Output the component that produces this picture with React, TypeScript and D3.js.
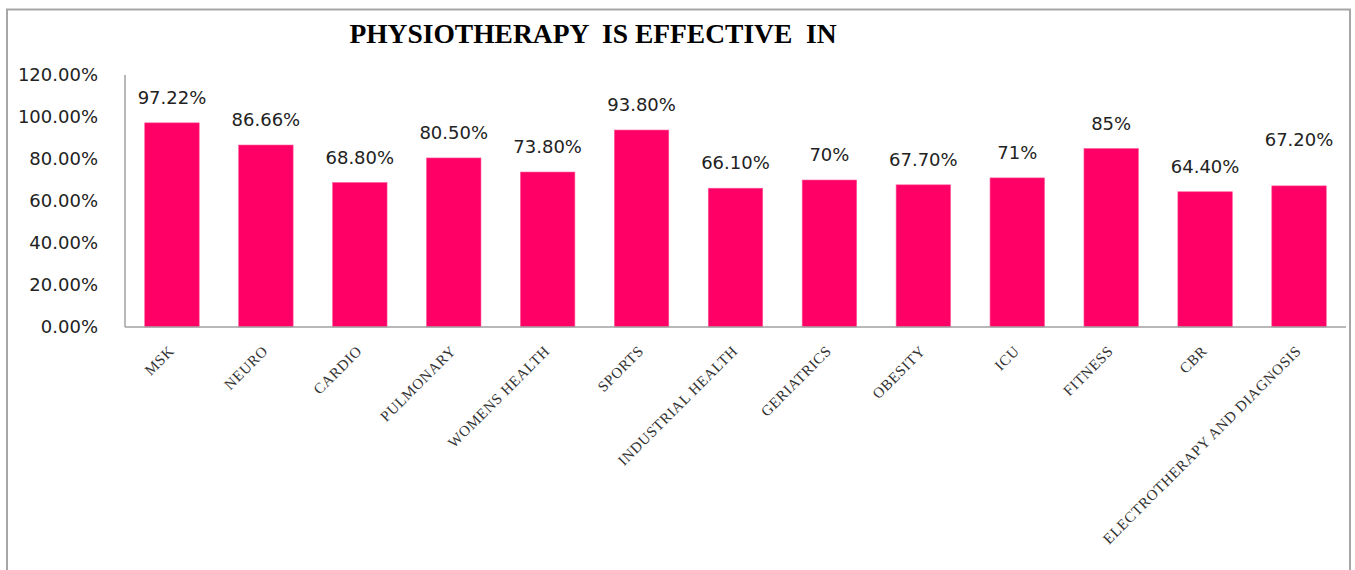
import * as d3 from 'd3';

const categories = [
  'MSK', 'NEURO', 'CARDIO', 'PULMONARY', 'WOMENS HEALTH', 'SPORTS',
  'INDUSTRIAL HEALTH', 'GERIATRICS', 'OBESITY', 'ICU', 'FITNESS', 'CBR',
  'ELECTROTHERAPY AND DIAGNOSIS',
];
const values = [0.9722, 0.8666, 0.688, 0.805, 0.738, 0.938, 0.661, 0.70, 0.677, 0.71, 0.85, 0.644, 0.672];
const valueLabels = ['97.22%', '86.66%', '68.80%', '80.50%', '73.80%', '93.80%', '66.10%', '70%', '67.70%', '71%', '85%', '64.40%', '67.20%'];
const yTicks = [0, 0.2, 0.4, 0.6, 0.8, 1.0, 1.2];

const title = 'PHYSIOTHERAPY  IS EFFECTIVE  IN';

// label that was dragged up by hand in the original
const liftedLabel = 'ELECTROTHERAPY AND DIAGNOSIS';

const W = 1355;
const H = 570;
const plot = { left: 125, right: 1346, top: 75, bottom: 327 };

export default function App() {
  const x = d3.scaleBand<string>()
    .domain(categories)
    .range([plot.left, plot.right])
    .paddingInner(0.42)
    .paddingOuter(0.21);

  const y = d3.scaleLinear().domain([0, 1.2]).range([plot.bottom, plot.top]);

  return (
    <svg
      width={W}
      height={H}
      style={{ position: 'absolute', left: 0, top: 0, background: '#fff' }}
    >
      <rect x={7} y={9.5} width={1343} height={600} fill="#fff" stroke="#a6a6a6" strokeWidth={2} />

      <text
        x={593}
        y={43}
        textAnchor="middle"
        fontFamily="'Liberation Serif', 'Times New Roman', serif"
        fontWeight="bold"
        fontSize={27.5}
        style={{ whiteSpace: 'pre' }}
      >
        {title}
      </text>

      {/* y axis */}
      <line x1={plot.left} x2={plot.left} y1={plot.top} y2={plot.bottom} stroke="#a0a0a0" strokeWidth={1.5} />
      {yTicks.map(t => (
        <text
          key={t}
          x={98}
          y={y(t) + 6}
          textAnchor="end"
          fontFamily="'DejaVu Sans', sans-serif"
          fontSize={18}
          fill="#222"
        >
          {d3.format('.2%')(t)}
        </text>
      ))}

      {/* bars */}
      {categories.map((c, i) => (
        <rect
          key={c}
          x={x(c)}
          y={y(values[i])}
          width={x.bandwidth()}
          height={y(0) - y(values[i])}
          fill="#ff0066"
          stroke="#ff5c9a"
          strokeWidth={0.6}
        />
      ))}

      {/* x axis */}
      <line x1={plot.left} x2={plot.right} y1={plot.bottom} y2={plot.bottom} stroke="#a0a0a0" strokeWidth={1.5} />

      {/* value labels */}
      {categories.map((c, i) => (
        <text
          key={c}
          x={(x(c) ?? 0) + x.bandwidth() / 2}
          y={y(values[i]) - 19 - (c === liftedLabel ? 21 : 0)}
          textAnchor="middle"
          fontFamily="'DejaVu Sans', sans-serif"
          fontSize={18}
          fill="#222"
        >
          {valueLabels[i]}
        </text>
      ))}

      {/* category labels */}
      {categories.map(c => {
        const cx = (x(c) ?? 0) + x.bandwidth() / 2 + 3;
        const cy = 352;
        return (
          <text
            key={c}
            transform={`translate(${cx},${cy}) rotate(-45)`}
            textAnchor="end"
            fontFamily="'Liberation Serif', 'Times New Roman', serif"
            fontSize={15}
            letterSpacing={0.6}
            fill="#333"
          >
            {c}
          </text>
        );
      })}
    </svg>
  );
}
